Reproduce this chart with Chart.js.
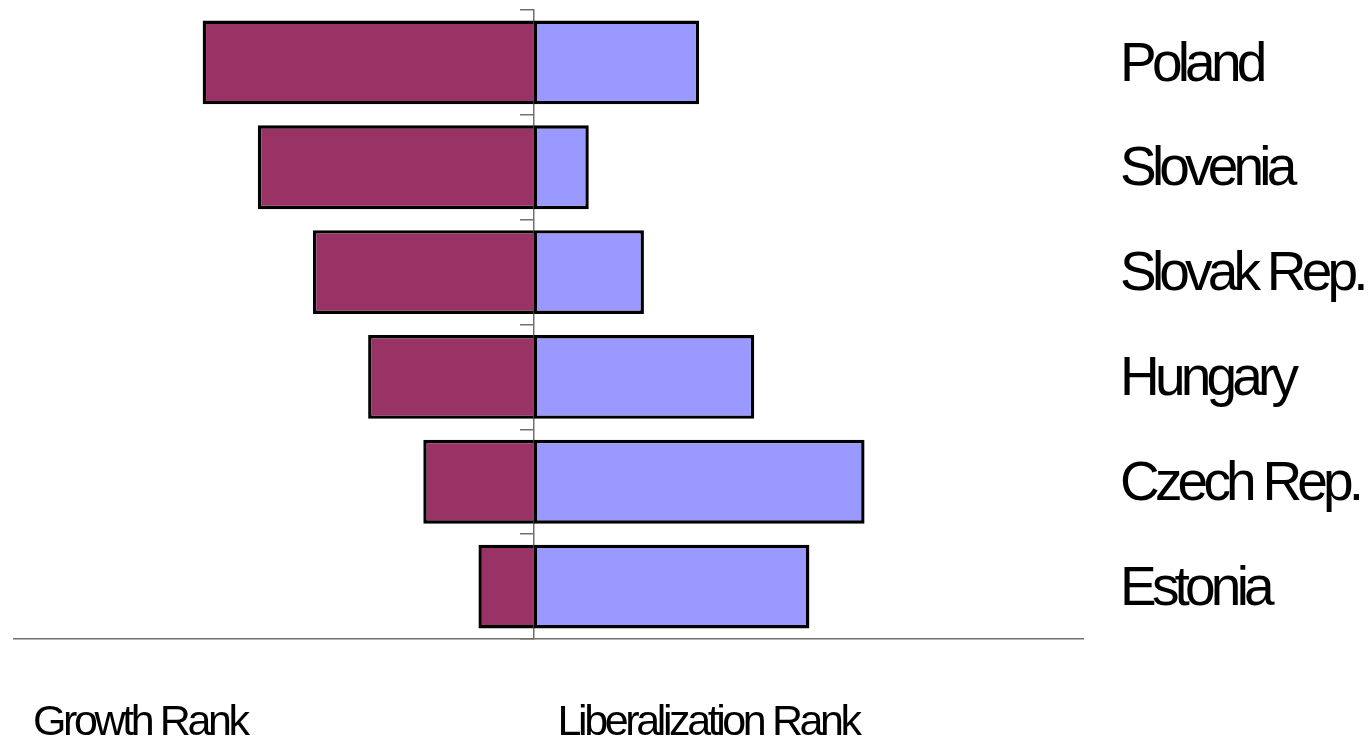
<!DOCTYPE html>
<html>
<head>
<meta charset="utf-8">
<title>Growth vs Liberalization Rank</title>
<script src="https://cdn.jsdelivr.net/npm/chart.js@4.4.1/dist/chart.umd.min.js"></script>
<style>
  html, body { margin: 0; padding: 0; background: #fff; }
  #wrap { width: 1368px; height: 736px; position: relative; }
</style>
</head>
<body>
<div id="wrap"><canvas id="rankChart"></canvas></div>
<script>
// Data
const countries = ['Poland', 'Slovenia', 'Slovak Rep.', 'Hungary', 'Czech Rep.', 'Estonia'];
const growthRank = [6, 5, 4, 3, 2, 1];
const liberalizationRank = [3, 1, 2, 4, 6, 5];
const bottomLabels = ['Growth Rank', 'Liberalization Rank'];

// no narrow font installed, so tighten the letters instead
const narrowFont = "'Liberation Sans Narrow', 'Arial Narrow', 'Liberation Sans', Arial, sans-serif";

const tightText = {
    id: 'tightText',
    beforeDraw(chart) {
        chart.ctx.letterSpacing = '-4.8px';
    }
};

// Draw the two captions under the axis
const captionPlugin = {
    id: 'captions',
    afterDraw(chart) {
        const { ctx, chartArea, scales } = chart;
        ctx.save();
        ctx.fillStyle = '#000';
        ctx.font = "43px " + narrowFont;
        ctx.letterSpacing = '-3.4px';
        ctx.textAlign = 'left';
        ctx.textBaseline = 'alphabetic';
        ctx.fillText(bottomLabels[0], chartArea.left + 19, 735);
        ctx.fillText(bottomLabels[1], scales.x.getPixelForValue(0) + 24, 735);
        ctx.restore();
    }
};

const ctx = document.getElementById('rankChart').getContext('2d');
const rankChart = new Chart(ctx, {
    type: 'bar',
    data: {
        labels: countries,
        datasets: [{
            label: 'Growth Rank',
            data: growthRank.map(v => -v),
            backgroundColor: '#993366',
            borderColor: '#000000',
            borderWidth: 3.4,
            barPercentage: 0.8,
            categoryPercentage: 1
        }, {
            label: 'Liberalization Rank',
            data: liberalizationRank,
            backgroundColor: '#9999FF',
            borderColor: '#000000',
            borderWidth: 3.4,
            borderSkipped: false,
            barPercentage: 0.8,
            categoryPercentage: 1
        }]
    },
    options: {
        indexAxis: 'y',
        responsive: true,
        maintainAspectRatio: false,
        animation: false,
        layout: {
            padding: { left: 14, top: 10, right: 0, bottom: 0 }
        },
        plugins: {
            legend: { display: false },
            tooltip: { enabled: false }
        },
        scales: {
            x: {
                stacked: true,
                min: -9.42,
                max: 9.96,
                grid: { display: false },
                border: { display: true, color: '#707070', width: 1.5 },
                ticks: { display: false },
                afterFit(scale) { scale.height = 97; }
            },
            y: {
                stacked: true,
                position: { x: 0 },
                offset: true,
                grid: {
                    display: true,
                    offset: true,
                    drawOnChartArea: false,
                    drawTicks: true,
                    tickLength: 13,
                    color: '#707070',
                    lineWidth: 1.5
                },
                border: { display: true, color: '#707070', width: 1.5 },
                ticks: { display: false }
            },
            y2: {
                type: 'category',
                position: 'right',
                offset: true,
                grid: { display: false, drawTicks: false },
                border: { display: false },
                ticks: {
                    color: '#000000',
                    padding: 37,
                    labelOffset: 3,
                    font: { family: narrowFont, size: 55 }
                },
                afterFit(scale) {
                    scale.width = 285;
                    scale.paddingTop = 0;
                    scale.paddingBottom = 0;
                }
            }
        }
    },
    plugins: [tightText, captionPlugin]
});
</script>
</body>
</html>
